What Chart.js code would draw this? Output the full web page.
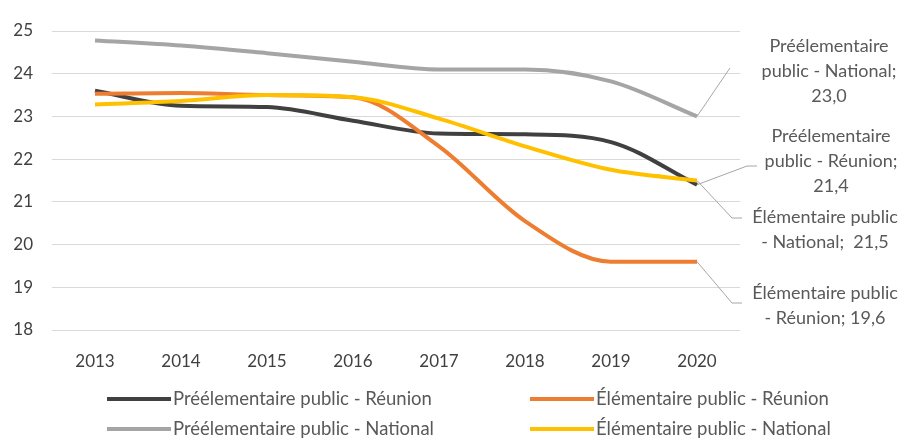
<!DOCTYPE html>
<html>
<head>
<meta charset="utf-8">
<script src="https://cdn.jsdelivr.net/npm/chart.js@4"></script>
<style>
  html, body { margin: 0; padding: 0; background: #ffffff; }
  #wrap { width: 910px; height: 441px; position: relative; }
</style>
</head>
<body>
<div id="wrap"><canvas id="c" width="910" height="441"></canvas></div>
<script>
const years = ['2013', '2014', '2015', '2016', '2017', '2018', '2019', '2020'];
const preReunion   = [23.6, 23.25, 23.22, 22.9, 22.6, 22.58, 22.4, 21.4];
const elemReunion  = [23.53, 23.55, 23.5, 23.45, 22.3, 20.55, 19.6, 19.6];
const preNational  = [24.78, 24.66, 24.48, 24.28, 24.1, 24.1, 23.82, 23.0];
const elemNational = [23.28, 23.36, 23.5, 23.45, 22.95, 22.3, 21.75, 21.5];
const seriesNames = [
  'Préélementaire public - Réunion',
  'Élémentaire public - Réunion',
  'Préélementaire public - National',
  'Élémentaire public - National'
];
const yTicks = [18, 19, 20, 21, 22, 23, 24, 25];

const FONT = 'Lato, "Open Sans", sans-serif';
const TEXT = '#595959';
const colors = ['#404040', '#ED7D31', '#A5A5A5', '#FFC000'];
const seriesData = [preReunion, elemReunion, preNational, elemNational];
const drawOrder = [4, 3, 2, 1];

function fmt(v) { return v.toFixed(1).replace('.', ','); }

// data label definitions: text lines + label position + leader elbow
const labelDefs = [
  { ds: 2, lines: ['Préélementaire', 'public - National;', fmt(preNational[7])], cx: 829, top: 46, elbow: [730, 68], end: null },
  { ds: 0, lines: ['Préélementaire', 'public - Réunion;', fmt(preReunion[7])], cx: 831, top: 136, elbow: [747, 166], end: [757, 166] },
  { ds: 3, lines: ['Élémentaire public', '- National;  ' + fmt(elemNational[7])], cx: 825, top: 217, elbow: [732, 218], end: [742, 218] },
  { ds: 1, lines: ['Élémentaire public', '- Réunion; ' + fmt(elemReunion[7])], cx: 825, top: 293, elbow: [732, 303], end: [742, 303] }
];

const extras = {
  id: 'extras',
  afterDatasetsDraw(chart) {
    const ctx = chart.ctx;
    const xs = chart.scales.x, ys = chart.scales.y;
    ctx.save();
    // leader lines + labels
    labelDefs.forEach(d => {
      const px = xs.getPixelForValue(7);
      const py = ys.getPixelForValue(seriesData[d.ds][7]);
      ctx.strokeStyle = '#A6A6A6';
      ctx.lineWidth = 1;
      ctx.beginPath();
      ctx.moveTo(px, py);
      ctx.lineTo(d.elbow[0], d.elbow[1]);
      if (d.end) ctx.lineTo(d.end[0], d.end[1]);
      ctx.stroke();
      ctx.fillStyle = TEXT;
      ctx.font = '18px ' + FONT;
      ctx.textAlign = 'center';
      ctx.textBaseline = 'middle';
      d.lines.forEach((t, i) => ctx.fillText(t, d.cx, d.top + i * 25));
    });
    // legend
    const legendPos = [
      { x: 107, y: 399 }, { x: 530, y: 399 },
      { x: 107, y: 429 }, { x: 530, y: 429 }
    ];
    ctx.font = '18.5px ' + FONT;
    ctx.textAlign = 'left';
    ctx.textBaseline = 'middle';
    seriesNames.forEach((n, i) => {
      const p = legendPos[i];
      ctx.strokeStyle = colors[i];
      ctx.lineWidth = 4;
      ctx.beginPath();
      ctx.moveTo(p.x, p.y);
      ctx.lineTo(p.x + 64, p.y);
      ctx.stroke();
      ctx.fillStyle = TEXT;
      ctx.fillText(n, p.x + 66, p.y);
    });
    ctx.restore();
  }
};

new Chart(document.getElementById('c'), {
  type: 'line',
  data: {
    labels: years,
    datasets: seriesData.map((d, i) => ({
      label: seriesNames[i],
      data: d,
      borderColor: colors[i],
      backgroundColor: colors[i],
      borderWidth: 4,
      pointRadius: 0,
      cubicInterpolationMode: 'monotone',
      fill: false,
      order: drawOrder[i]
    }))
  },
  options: {
    responsive: false,
    animation: false,
    layout: { padding: { left: 8, right: 170, top: 31, bottom: 0 } },
    plugins: { legend: { display: false }, tooltip: { enabled: false } },
    scales: {
      x: {
        offset: true,
        grid: { display: false },
        border: { display: false },
        ticks: { color: '#404040', font: { family: FONT, size: 17 }, padding: 13, maxRotation: 0 },
        afterFit(s) { s.height = 111; }
      },
      y: {
        min: 18, max: 25,
        afterBuildTicks(s) { s.ticks = yTicks.map(v => ({ value: v })); },
        grid: { color: '#D9D9D9', lineWidth: 1, drawTicks: false },
        border: { display: false },
        ticks: { color: '#404040', font: { family: FONT, size: 17 }, padding: 19 },
        afterFit(s) { s.width = 44; }
      }
    }
  },
  plugins: [extras]
});
</script>
</body>
</html>
